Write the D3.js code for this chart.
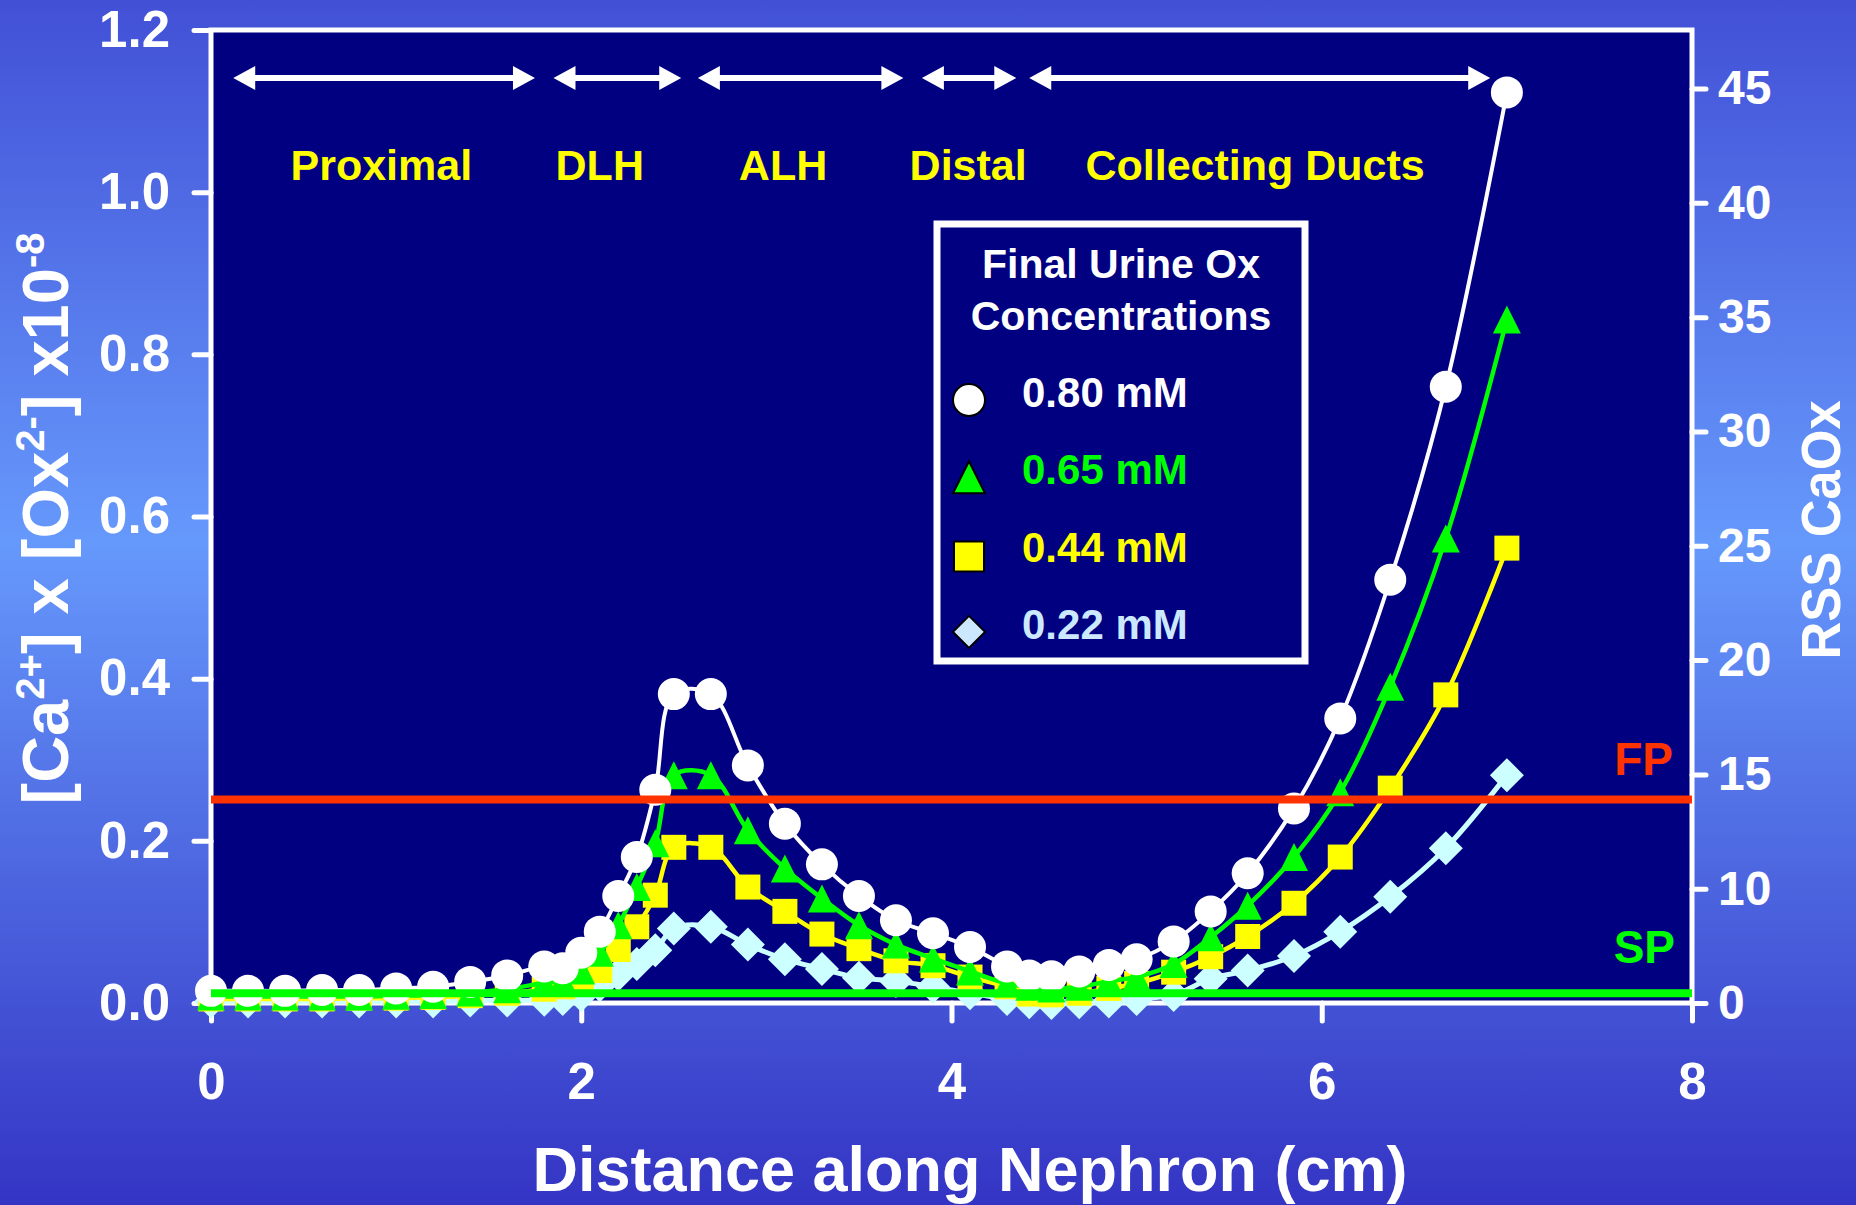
<!DOCTYPE html>
<html lang="en">
<head>
<meta charset="UTF-8">
<title>Distance along Nephron</title>
<style>
  body { margin: 0; background: #3f4fd4; }
  svg { display: block; }
  text { font-family: "Liberation Sans", Arial, sans-serif; font-weight: bold; }
</style>
</head>
<body>
<script src="https://d3js.org/d3.v7.min.js"></script>
<script>
// distance along nephron (cm) for every point
const distance = [0, 0.2, 0.4, 0.6, 0.8, 1.0, 1.2, 1.4, 1.6, 1.8,
  1.9, 2.0, 2.1, 2.2, 2.3, 2.4, 2.5,
  2.7, 2.9, 3.1, 3.3, 3.5, 3.7, 3.9,
  4.1, 4.3, 4.42, 4.54, 4.69, 4.85, 5.0,
  5.2, 5.4, 5.6, 5.85, 6.1, 6.37, 6.67, 7.0];

// [Ca2+] x [Ox2-] (x10^-8) for each final urine Ox concentration
const ox080 = [0.015, 0.015, 0.015, 0.016, 0.016, 0.018, 0.02, 0.026, 0.034, 0.045,
  0.043, 0.062, 0.088, 0.132, 0.18, 0.263, 0.381,
  0.381, 0.293, 0.221, 0.171, 0.132, 0.102, 0.086,
  0.069, 0.045, 0.034, 0.033, 0.039, 0.047, 0.054,
  0.076, 0.113, 0.16, 0.24, 0.351, 0.522, 0.76, 1.123];
const ox065 = [0.008, 0.008, 0.008, 0.008, 0.008, 0.009, 0.01, 0.013, 0.017, 0.025,
  0.028, 0.04, 0.062, 0.096, 0.143, 0.197, 0.281,
  0.281, 0.213, 0.166, 0.129, 0.096, 0.072, 0.055,
  0.039, 0.024, 0.02, 0.018, 0.02, 0.027, 0.032,
  0.048, 0.081, 0.12, 0.18, 0.26, 0.39, 0.573, 0.843];
const ox044 = [0.005, 0.005, 0.005, 0.005, 0.006, 0.006, 0.007, 0.009, 0.012, 0.017,
  0.02, 0.028, 0.04, 0.066, 0.094, 0.133, 0.192,
  0.192, 0.143, 0.113, 0.085, 0.067, 0.052, 0.046,
  0.032, 0.02, 0.011, 0.01, 0.012, 0.018, 0.024,
  0.038, 0.057, 0.082, 0.123, 0.18, 0.265, 0.38, 0.561];
const ox022 = [0.002, 0.002, 0.002, 0.002, 0.002, 0.002, 0.002, 0.003, 0.003, 0.004,
  0.005, 0.01, 0.022, 0.035, 0.048, 0.065, 0.092,
  0.094, 0.072, 0.054, 0.042, 0.031, 0.027, 0.02,
  0.012, 0.005, 0.001, 0.0, 0.001, 0.002, 0.005,
  0.01, 0.03, 0.04, 0.058, 0.088, 0.131, 0.191, 0.281];

const seriesNames = ["0.80 mM", "0.65 mM", "0.44 mM", "0.22 mM"];

// nephron segments (cm) and where their names sit
const segmentNames = ["Proximal", "DLH", "ALH", "Distal", "Collecting Ducts"];
const segmentStart = [0.12, 1.85, 2.63, 3.84, 4.42];
const segmentEnd = [1.75, 2.54, 3.74, 4.35, 6.91];
const segmentLabelAt = [0.92, 2.1, 3.09, 4.09, 5.64];

const fpLevel = 0.251;
const spLevel = 0.012;

const xTicks = [0, 2, 4, 6, 8];
const yTicks = [0, 0.2, 0.4, 0.6, 0.8, 1.0, 1.2];
const rssTicks = [5, 10, 15, 20, 25, 30, 35, 40, 45];
const rssTickLabels = ["0", "10", "15", "20", "25", "30", "35", "40", "45"];

const width = 1856, height = 1205;
const margin = { top: 30, right: 164, bottom: 202, left: 211 };

const svg = d3.select("body").append("svg")
  .attr("width", width)
  .attr("height", height);

const defs = svg.append("defs");
const grad = defs.append("linearGradient")
  .attr("id", "bg").attr("x1", 0).attr("y1", 0).attr("x2", 0).attr("y2", 1);
grad.append("stop").attr("offset", "0%").attr("stop-color", "#4250d6");
grad.append("stop").attr("offset", "45%").attr("stop-color", "#6699fc");
grad.append("stop").attr("offset", "100%").attr("stop-color", "#3434c4");

svg.append("rect").attr("width", width).attr("height", height).attr("fill", "url(#bg)");

const x = d3.scaleLinear().domain([0, 8]).range([margin.left, width - margin.right]);
const y = d3.scaleLinear().domain([0, 1.2]).range([height - margin.bottom, margin.top]);
const rss = d3.scaleLinear().domain([5, 47.56]).range([height - margin.bottom, margin.top]);

// plot area
svg.append("rect")
  .attr("x", x(0)).attr("y", y(1.2))
  .attr("width", x(8) - x(0)).attr("height", y(0) - y(1.2))
  .attr("fill", "#000080")
  .attr("stroke", "white")
  .attr("stroke-width", 5);

const styleAxis = (g, size) => {
  g.select(".domain").remove();
  g.selectAll(".tick line")
    .attr("stroke", "white")
    .attr("stroke-width", 5)
    .attr("stroke-linecap", "round");
  g.selectAll(".tick text")
    .attr("fill", "white")
    .style("font-size", size + "px");
};

svg.append("g")
  .attr("transform", `translate(${x(0)},0)`)
  .call(d3.axisLeft(y).tickValues(yTicks).tickFormat(d3.format(".1f")).tickSize(17).tickPadding(24))
  .call(g => styleAxis(g, 51));

svg.append("g")
  .attr("transform", `translate(0,${y(0)})`)
  .call(d3.axisBottom(x).tickValues(xTicks).tickFormat(d3.format("d")).tickSize(18).tickPadding(42))
  .call(g => styleAxis(g, 51));

svg.append("g")
  .attr("transform", `translate(${x(8)},0)`)
  .call(d3.axisRight(rss).tickValues(rssTicks).tickFormat((d, i) => rssTickLabels[i]).tickSize(14).tickPadding(12))
  .call(g => styleAxis(g, 48));

// axis titles
svg.append("text")
  .attr("x", 970).attr("y", 1191)
  .attr("text-anchor", "middle")
  .attr("fill", "white")
  .style("font-size", "63px")
  .text("Distance along Nephron (cm)");

const yTitle = svg.append("text")
  .attr("transform", `translate(68,${(y(0) + y(1.2)) / 2 + 2}) rotate(-90)`)
  .attr("text-anchor", "middle")
  .attr("fill", "white")
  .style("font-size", "65px");
yTitle.append("tspan").text("[Ca");
yTitle.append("tspan").attr("dy", -24).style("font-size", "40px").text("2+");
yTitle.append("tspan").attr("dy", 24).text("] x [Ox");
yTitle.append("tspan").attr("dy", -24).style("font-size", "40px").text("2-");
yTitle.append("tspan").attr("dy", 24).text("] x10");
yTitle.append("tspan").attr("dy", -24).style("font-size", "40px").text("-8");

svg.append("text")
  .attr("transform", `translate(1840,530) rotate(-90)`)
  .attr("text-anchor", "middle")
  .attr("fill", "white")
  .attr("textLength", 259)
  .attr("lengthAdjust", "spacingAndGlyphs")
  .style("font-size", "55px")
  .text("RSS CaOx");

// nephron segment arrows and names
const arrowY = 78;
segmentNames.forEach((name, i) => {
  const x0 = x(segmentStart[i]), x1 = x(segmentEnd[i]);
  const head = 22, half = 12;
  svg.append("line")
    .attr("x1", x0 + head - 2).attr("x2", x1 - head + 2)
    .attr("y1", arrowY).attr("y2", arrowY)
    .attr("stroke", "white").attr("stroke-width", 6);
  svg.append("path")
    .attr("d", `M${x0},${arrowY}L${x0 + head},${arrowY - half}L${x0 + head},${arrowY + half}Z` +
      `M${x1},${arrowY}L${x1 - head},${arrowY - half}L${x1 - head},${arrowY + half}Z`)
    .attr("fill", "white");
  svg.append("text")
    .attr("x", x(segmentLabelAt[i])).attr("y", 180)
    .attr("text-anchor", "middle")
    .attr("fill", "#ffff00")
    .style("font-size", "43px")
    .text(name);
});

// marker shapes
const circlePath = r => `M${-r},0A${r},${r} 0 1,0 ${r},0A${r},${r} 0 1,0 ${-r},0Z`;
const trianglePath = s => `M0,${-s / 2}L${s / 2},${s / 2}L${-s / 2},${s / 2}Z`;
const squarePath = s => `M${-s / 2},${-s / 2}H${s / 2}V${s / 2}H${-s / 2}Z`;
const diamondPath = s => `M0,${-s / 2}L${s / 2},0L0,${s / 2}L${-s / 2},0Z`;

const series = [
  { name: seriesNames[3], values: ox022, color: "#ccffff", text: "#cce8ff", legendFill: "#cce8ff", shape: diamondPath, size: 34, lw: 5 },
  { name: seriesNames[2], values: ox044, color: "#ffff00", text: "#ffff00", legendFill: "#ffff00", shape: squarePath, size: 25, lw: 4.5 },
  { name: seriesNames[1], values: ox065, color: "#00ff00", text: "#00ff00", legendFill: "#00ff00", shape: trianglePath, size: 28, lw: 4.5 },
  { name: seriesNames[0], values: ox080, color: "#ffffff", text: "#ffffff", legendFill: "#ffffff", shape: circlePath, size: 16, lw: 4 }
];

const line = d3.line()
  .x(d => x(d[0]))
  .y(d => y(d[1]))
  .curve(d3.curveCatmullRom.alpha(0.5));

series.forEach(s => {
  const pts = distance.map((d, i) => [d, s.values[i]]);
  const g = svg.append("g");
  g.append("path")
    .datum(pts)
    .attr("d", line)
    .attr("fill", "none")
    .attr("stroke", s.color)
    .attr("stroke-width", s.lw);
  g.selectAll("path.mark")
    .data(pts)
    .join("path")
    .attr("class", "mark")
    .attr("transform", d => `translate(${x(d[0])},${y(d[1])})`)
    .attr("d", s.shape(s.size))
    .attr("fill", s.color);
});

// FP and SP levels
svg.append("line")
  .attr("x1", x(0)).attr("x2", x(8))
  .attr("y1", y(fpLevel)).attr("y2", y(fpLevel))
  .attr("stroke", "#ff3300").attr("stroke-width", 8);
svg.append("line")
  .attr("x1", x(0)).attr("x2", x(8))
  .attr("y1", y(spLevel)).attr("y2", y(spLevel))
  .attr("stroke", "#00ff00").attr("stroke-width", 8);
svg.append("text")
  .attr("x", 1673).attr("y", 775)
  .attr("text-anchor", "end")
  .attr("fill", "#ff3300")
  .style("font-size", "46px")
  .text("FP");
svg.append("text")
  .attr("x", 1675).attr("y", 963)
  .attr("text-anchor", "end")
  .attr("fill", "#00ff00")
  .style("font-size", "46px")
  .text("SP");

// legend
const legend = svg.append("g");
legend.append("rect")
  .attr("x", 937).attr("y", 224)
  .attr("width", 368).attr("height", 437)
  .attr("fill", "#000080")
  .attr("stroke", "white")
  .attr("stroke-width", 7);
legend.append("text")
  .attr("x", 1121).attr("y", 278)
  .attr("text-anchor", "middle")
  .attr("fill", "white")
  .style("font-size", "41px")
  .text("Final Urine Ox");
legend.append("text")
  .attr("x", 1121).attr("y", 330)
  .attr("text-anchor", "middle")
  .attr("fill", "white")
  .style("font-size", "41px")
  .text("Concentrations");

const legendShape = [
  { shape: circlePath, size: 16 },
  { shape: trianglePath, size: 32 },
  { shape: squarePath, size: 30 },
  { shape: diamondPath, size: 32 }
];
series.slice().reverse().forEach((s, i) => {
  const cy = 400 + i * 77.3;
  legend.append("path")
    .attr("transform", `translate(969,${cy + (i === 2 ? 2 : 0)})`)
    .attr("d", legendShape[i].shape(legendShape[i].size))
    .attr("fill", s.legendFill)
    .attr("stroke", "black")
    .attr("stroke-width", 2);
  legend.append("text")
    .attr("x", 1022).attr("y", cy + 7)
    .attr("fill", s.text)
    .style("font-size", "42px")
    .text(s.name);
});
</script>
</body>
</html>
